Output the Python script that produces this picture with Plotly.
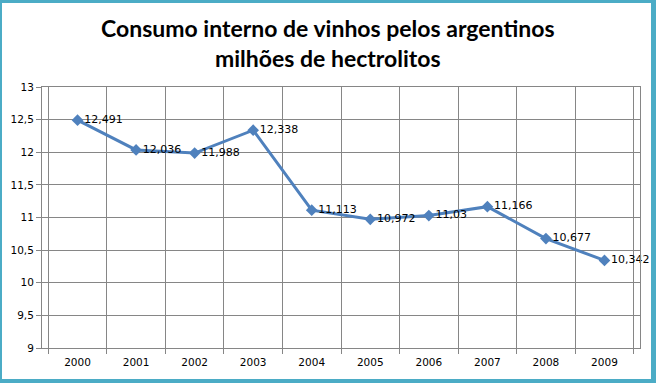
import plotly.graph_objects as go

years = ["2000", "2001", "2002", "2003", "2004", "2005", "2006", "2007", "2008", "2009"]
consumo = [12.491, 12.036, 11.988, 12.338, 11.113, 10.972, 11.03, 11.166, 10.677, 10.342]
labels = [str(v).replace(".", ",") for v in consumo]
y_ticks = [9, 9.5, 10, 10.5, 11, 11.5, 12, 12.5, 13]
y_tick_text = [("%g" % v).replace(".", ",") for v in y_ticks]
title_lines = ["Consumo interno de vinhos pelos argentinos", "milhões de hectrolitos"]

W, H = 656, 383
L, R, T, B = 42, 16, 87, 35
pw, ph = W - L - R, H - T - B

def px_x(x):
    return (x - L) / pw

def px_y(y):
    return 1 - (y - T) / ph

fig = go.Figure()
fig.add_trace(go.Scatter(
    x=years, y=consumo, mode="lines+markers+text",
    text=labels, textposition="middle right",
    textfont=dict(family="DejaVu Sans", size=11, color="#000000"),
    line=dict(color="#4F81BD", width=3),
    marker=dict(symbol="diamond", size=9, color="#4F81BD"),
    cliponaxis=False,
))

border = "#4BACC6"
shapes = []
for (x0, y0, x1, y1) in [(0, 0, 2, H), (0, 0, W, 3), (651, 0, W, H), (0, 379, W, H)]:
    shapes.append(dict(type="rect", xref="paper", yref="paper",
                       x0=px_x(x0), x1=px_x(x1), y0=px_y(y1), y1=px_y(y0),
                       fillcolor=border, line=dict(width=0), layer="above"))

annotations = []
for txt, yc in zip(title_lines, [28, 58]):
    annotations.append(dict(text="<b>" + txt + "</b>", xref="paper", yref="paper",
                            x=px_x(328), y=px_y(yc), xanchor="center", yanchor="middle",
                            showarrow=False,
                            font=dict(family="Lato", size=23, color="#000000")))

fig.update_layout(
    width=W, height=H,
    margin=dict(l=L, r=R, t=T, b=B, autoexpand=False),
    paper_bgcolor="white", plot_bgcolor="white",
    showlegend=False,
    shapes=shapes,
    annotations=annotations,
    xaxis=dict(type="category", tickson="boundaries", showgrid=True, gridcolor="#868686",
               gridwidth=1, showline=True, linecolor="#868686", mirror=True,
               ticks="outside", ticklen=5, tickcolor="#868686", automargin=False,
               ticklabelstandoff=4,
               tickfont=dict(family="DejaVu Sans", size=10.5, color="#000000")),
    yaxis=dict(range=[9, 13], tickvals=y_ticks, ticktext=y_tick_text, showgrid=True,
               gridcolor="#868686", gridwidth=1, showline=True, linecolor="#868686",
               mirror=True, ticks="outside", ticklen=5, tickcolor="#868686",
               zeroline=False, automargin=False,
               tickfont=dict(family="DejaVu Sans", size=10.5, color="#000000")),
)

fig.write_html("out.html", config={"displayModeBar": False},
               post_script="document.body.style.margin='0';")
